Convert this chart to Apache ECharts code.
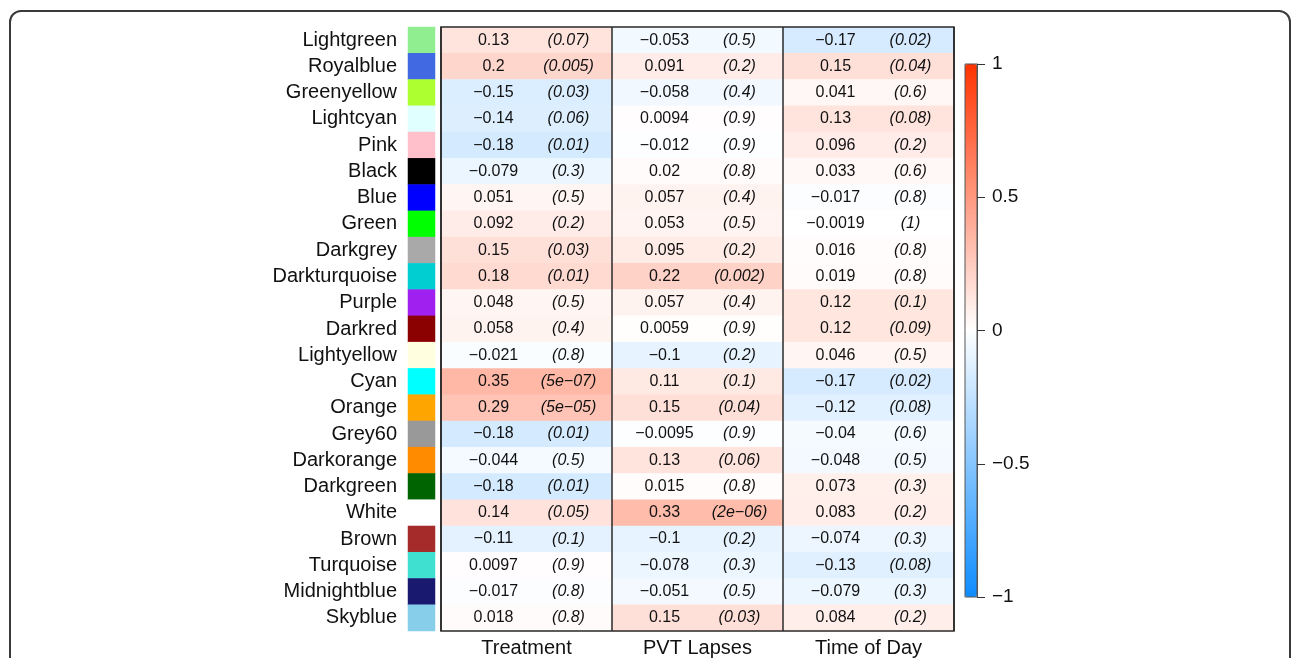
<!DOCTYPE html>
<html>
<head>
<meta charset="utf-8">
<script src="https://cdn.jsdelivr.net/npm/echarts/dist/echarts.min.js"></script>
<style>
  html, body { margin: 0; padding: 0; background: #ffffff; }
  #wrap { position: relative; width: 1292px; height: 658px; overflow: hidden; background: #fff; }
  #frame { position: absolute; left: 9px; top: 10px; width: 1282px; height: 720px; border: 2px solid #3a3a3a; border-radius: 12px; box-sizing: border-box; }
  #chart { position: absolute; left: 0; top: 0; width: 1292px; height: 658px; }
</style>
</head>
<body>
<div id="wrap">
  <div id="frame"></div>
  <div id="chart"></div>
</div>
<script>
// ---------------- data ----------------
const rows = ['Lightgreen','Royalblue','Greenyellow','Lightcyan','Pink','Black','Blue','Green','Darkgrey','Darkturquoise','Purple','Darkred','Lightyellow','Cyan','Orange','Grey60','Darkorange','Darkgreen','White','Brown','Turquoise','Midnightblue','Skyblue'];
const swatchColors = ['#90EE90','#4169E1','#ADFF2F','#E0FFFF','#FFC0CB','#000000','#0000FF','#00FF00','#A9A9A9','#00CED1','#A020F0','#8B0000','#FFFFE0','#00FFFF','#FFA500','#999999','#FF8C00','#006400','#FFFFFF','#A52A2A','#40E0D0','#191970','#87CEEB'];
const columns = ['Treatment','PVT Lapses','Time of Day'];

const treatmentR = [0.13, 0.2, -0.15, -0.14, -0.18, -0.079, 0.051, 0.092, 0.15, 0.18, 0.048, 0.058, -0.021, 0.35, 0.29, -0.18, -0.044, -0.18, 0.14, -0.11, 0.0097, -0.017, 0.018];
const treatmentP = ['0.07','0.005','0.03','0.06','0.01','0.3','0.5','0.2','0.03','0.01','0.5','0.4','0.8','5e-07','5e-05','0.01','0.5','0.01','0.05','0.1','0.9','0.8','0.8'];
const pvtR = [-0.053, 0.091, -0.058, 0.0094, -0.012, 0.02, 0.057, 0.053, 0.095, 0.22, 0.057, 0.0059, -0.1, 0.11, 0.15, -0.0095, 0.13, 0.015, 0.33, -0.1, -0.078, -0.051, 0.15];
const pvtP = ['0.5','0.2','0.4','0.9','0.9','0.8','0.4','0.5','0.2','0.002','0.4','0.9','0.2','0.1','0.04','0.9','0.06','0.8','2e-06','0.2','0.3','0.5','0.03'];
const todR = [-0.17, 0.15, 0.041, 0.13, 0.096, 0.033, -0.017, -0.0019, 0.016, 0.019, 0.12, 0.12, 0.046, -0.17, -0.12, -0.04, -0.048, 0.073, 0.083, -0.074, -0.13, -0.079, 0.084];
const todP = ['0.02','0.04','0.6','0.08','0.2','0.6','0.8','1','0.8','0.8','0.1','0.09','0.5','0.02','0.08','0.6','0.5','0.3','0.2','0.3','0.08','0.3','0.2'];

const colorbarMin = -1, colorbarMax = 1, colorbarStep = 0.5;
// --------------------------------------

const rValues = [treatmentR, pvtR, todR];
const pValues = [treatmentP, pvtP, todP];
const palette = ['#0D8CFF', '#FFFFFF', '#FF3300'];
const minus = s => String(s).replace(/-/g, '\u2212');

const heatData = [];
rValues.forEach((col, c) => col.forEach((v, r) => heatData.push([c, r, v])));
const swatchData = rows.map((name, r) => ({ value: [0, r, 0], itemStyle: { color: swatchColors[r] } }));

const FONT = "'Liberation Sans', Arial, Helvetica, sans-serif";
const chart = echarts.init(document.getElementById('chart'), null, { renderer: 'canvas' });
chart.setOption({
  animation: false,
  backgroundColor: 'transparent',
  textStyle: { fontFamily: FONT },
  grid: [
    { left: 441, top: 27, width: 513, height: 604, show: true, borderColor: '#2a2a2a', borderWidth: 1.6, z: 5, backgroundColor: 'transparent' },
    { left: 408, top: 27, width: 27, height: 604 },
    { left: 965, top: 64, width: 12, height: 533, show: true, borderColor: '#555', borderWidth: 1, z: 6, backgroundColor: 'transparent' }
  ],
  xAxis: [
    { type: 'category', gridIndex: 0, data: columns, position: 'bottom', z: 5,
      axisLine: { show: false }, axisTick: { show: false },
      axisLabel: { fontSize: 20, color: '#111', margin: 7, fontFamily: FONT },
      splitLine: { show: true, lineStyle: { color: '#2a2a2a', width: 1.5 } } },
    { type: 'category', gridIndex: 1, data: ['m'], show: false },
    { type: 'category', gridIndex: 2, data: [''], show: false }
  ],
  yAxis: [
    { type: 'category', gridIndex: 0, data: rows, inverse: true, show: false },
    { type: 'category', gridIndex: 1, data: rows, inverse: true,
      axisLine: { show: false }, axisTick: { show: false }, splitLine: { show: false },
      axisLabel: { fontSize: 20, color: '#111', margin: 11, fontFamily: FONT } },
    { type: 'value', gridIndex: 2, min: colorbarMin, max: colorbarMax, interval: colorbarStep, position: 'right', z: 10,
      axisLine: { show: true, onZero: false, lineStyle: { color: '#555', width: 1 } },
      axisTick: { show: true, inside: false, length: 8, lineStyle: { color: '#333' } },
      splitLine: { show: false },
      axisLabel: { fontSize: 19, color: '#111', margin: 15, fontFamily: FONT, formatter: v => minus(v) } }
  ],
  visualMap: [
    { type: 'continuous', show: false, seriesIndex: 0, min: colorbarMin, max: colorbarMax, inRange: { color: palette } },
    { type: 'continuous', show: true, seriesIndex: [], min: colorbarMin, max: colorbarMax,
      left: 965, top: 64, itemWidth: 12, itemHeight: 533, padding: 0, calculable: false,
      orient: 'vertical', inRange: { color: palette } }
  ],
  series: [
    { type: 'heatmap', xAxisIndex: 0, yAxisIndex: 0, data: heatData,
      label: {
        show: true,
        formatter: p => '{v|' + minus(p.data[2]) + '}{p|(' + minus(pValues[p.data[0]][p.data[1]]) + ')}',
        rich: {
          v: { width: 84, align: 'center', fontSize: 16, color: '#111', fontFamily: FONT },
          p: { width: 66, align: 'center', fontSize: 16, color: '#111', fontStyle: 'italic', fontFamily: FONT }
        }
      },
      emphasis: { disabled: true }
    },
    { type: 'heatmap', xAxisIndex: 1, yAxisIndex: 1, data: swatchData, emphasis: { disabled: true } }
  ]
});
</script>
</body>
</html>
